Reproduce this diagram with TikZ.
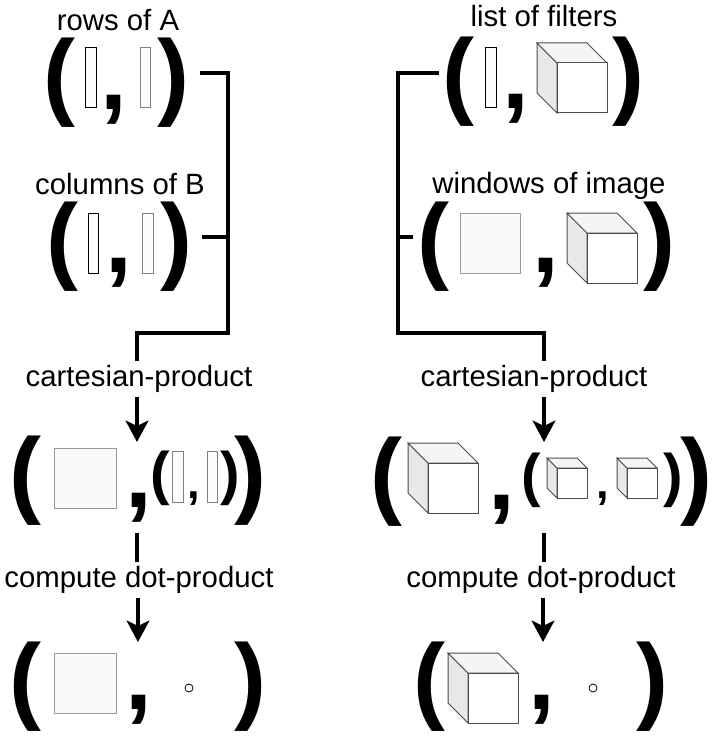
\documentclass[tikz,border=0pt]{standalone}
\usepackage{fontspec}
\setmainfont{Liberation Sans}
\usepackage{tikz}
\usetikzlibrary{arrows.meta}

\newcommand{\cubeat}[4]{%
  \filldraw[cubeline,fill=gray!18] (#1,#2) -- ++(-#4,-#4) -- ++(0,#3) -- (#1,{#2+#3}) -- cycle;
  \filldraw[cubeline,fill=gray!8] (#1,#2) -- ++(-#4,-#4) -- ++(#3,0) -- ({#1+#3},#2) -- cycle;
  \filldraw[cubeline,fill=white] (#1,#2) rectangle ++(#3,#3);
}

\begin{document}
\begin{tikzpicture}[x=0.75pt,y=-0.75pt,line width=3pt]
    \tikzset{lbl/.style={font=\fontsize{22}{26}\selectfont,inner sep=2pt},
      bigp/.style={font=\fontsize{72}{72}\selectfont\bfseries,inner sep=0pt},
      smallp/.style={font=\fontsize{44}{44}\selectfont\bfseries,inner sep=0pt},
      smallc/.style={font=\fontsize{34}{34}\selectfont\bfseries,inner sep=0pt},
      link/.style={line width=3pt},
      arr/.style={line width=3pt,-{Stealth[length=16pt,width=17pt,inset=4pt]}},
      bar/.style={draw=black,line width=0.75pt,fill=gray!2},
      greybar/.style={draw=gray,line width=0.75pt,fill=gray!2},
      tile/.style={draw=gray!80,line width=0.75pt,fill=gray!4},
      cubeline/.style={draw=black!70,line width=0.75pt},
      dot/.style={draw,circle,line width=0.6pt,fill=white,minimum size=6pt,inner sep=0pt}}
    \useasboundingbox (0,0) rectangle (719,738);

    % matrix side
    \node[lbl] (rowsA) at (118,20) {rows of A};
    \node[bigp] (a1l) at (59.5,83) {(};
    \draw[bar] (85,48) rectangle (96,108);
    \node[bigp] (a1c) at (113.5,109.5) {,};
    \draw[greybar] (140,48) rectangle (150,108);
    \node[bigp] (a1r) at (173.5,83) {)};

    \node[lbl] (colsB) at (120,184) {columns of B};
    \node[bigp] (b1l) at (62.5,246.5) {(};
    \draw[bar] (88,213) rectangle (98,273);
    \node[bigp] (b1c) at (119,272.5) {,};
    \draw[greybar] (142,213) rectangle (153,273);
    \node[bigp] (b1r) at (176.5,246.5) {)};

    \node[lbl] (cpA) at (139,379) {cartesian-product};
    \node[bigp] (m3l) at (25,481) {(};
    \draw[tile] (54,448) rectangle (116,508);
    \node[bigp] (m3c) at (138.5,508) {,};
    \node[smallp] (m3il) at (160,478) {(};
    \draw[greybar] (172,451) rectangle (183,502);
    \node[smallc] (m3ic) at (194,499) {,};
    \draw[greybar] (207,451) rectangle (217,502);
    \node[smallp] (m3ir) at (230.5,478) {)};
    \node[bigp] (m3r) at (250,481) {)};

    \node[lbl] (dpA) at (139,580) {compute dot-product};
    \node[bigp] (m4l) at (25,686.5) {(};
    \draw[tile] (54,653) rectangle (116,713);
    \node[bigp] (m4c) at (138.5,710) {,};
    \node[dot] (m4d) at (189,688) {};
    \node[bigp] (m4r) at (250,686.5) {)};

    \coordinate (tA) at (200,73);
    \coordinate (tB) at (202,237);
    \coordinate (jA) at (228,333);
    \coordinate (inA3) at (137,442);
    \coordinate (outA3) at (137,533);
    \coordinate (inA4) at (138,642);
    \draw[link] (tA) -| (jA) -| (cpA.north -| inA3);
    \draw[link] (tB) -- (tB -| jA);
    \draw[arr] (cpA.south -| inA3) -- (inA3);
    \draw[link] (outA3) -- (outA3 |- dpA.north);
    \draw[arr] (dpA.south -| inA4) -- (inA4);

    % convolution side
    \node[lbl] (filt) at (544,16) {list of filters};
    \node[bigp] (f1l) at (458.5,81.5) {(};
    \draw[bar] (485,48) rectangle (496,108);
    \node[bigp] (f1c) at (516,108.5) {,};
    \cubeat{557}{63}{50}{20}
    \node[bigp] (f1r) at (628.5,81.5) {)};

    \node[lbl] (wins) at (549,186) {windows of image};
    \node[bigp] (w1l) at (433.5,246.5) {(};
    \draw[tile] (460,213) rectangle (520,273);
    \node[bigp] (w1c) at (545.5,272.5) {,};
    \cubeat{587}{233}{50}{20}
    \node[bigp] (w1r) at (659,246.5) {)};

    \node[lbl] (cpF) at (534,379) {cartesian-product};
    \node[bigp] (c3l) at (386.5,482) {(};
    \cubeat{428}{463}{50}{20}
    \node[bigp] (c3c) at (501.5,510) {,};
    \node[smallp] (c3il) at (531.5,480.5) {(};
    \cubeat{557}{468}{30}{10}
    \node[smallc] (c3ic) at (602.5,499) {,};
    \cubeat{627}{468}{30}{10}
    \node[smallp] (c3ir) at (673.5,480.5) {)};
    \node[bigp] (c3r) at (696,482) {)};

    \node[lbl] (dpF) at (541,580) {compute dot-product};
    \node[bigp] (c4l) at (429.5,686.5) {(};
    \cubeat{468}{673}{50}{20}
    \node[bigp] (c4c) at (541.5,710) {,};
    \node[dot] (c4d) at (593,688) {};
    \node[bigp] (c4r) at (652.5,686.5) {)};

    \coordinate (tF) at (439,73);
    \coordinate (tW) at (413,237);
    \coordinate (jF) at (398,333);
    \coordinate (inF3) at (544,442);
    \coordinate (outF3) at (544,533);
    \coordinate (inF4) at (543,642);
    \draw[link] (tF) -| (jF) -| (cpF.north -| inF3);
    \draw[link] (tW) -- (tW -| jF);
    \draw[arr] (cpF.south -| inF3) -- (inF3);
    \draw[link] (outF3) -- (outF3 |- dpF.north);
    \draw[arr] (dpF.south -| inF4) -- (inF4);
\end{tikzpicture}
\end{document}
